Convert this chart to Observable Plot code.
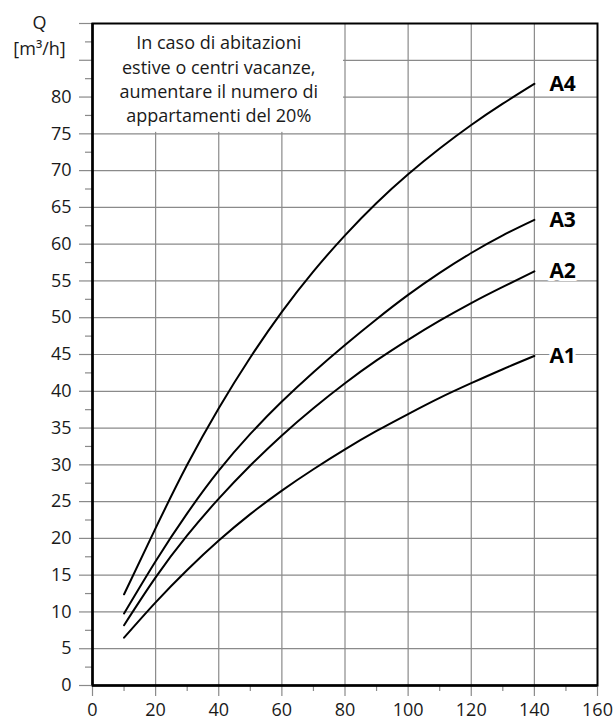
<!DOCTYPE html>
<html>
<head>
<meta charset="utf-8">
<script src="https://cdn.jsdelivr.net/npm/d3@7"></script>
<script src="https://cdn.jsdelivr.net/npm/@observablehq/plot@0.6"></script>
<style>
  html, body { margin: 0; padding: 0; background: #fff; }
  #chart svg { display: block; }
</style>
</head>
<body>
<div id="chart"></div>
<script>
// ---- data ----
const apartments = [10, 20, 30, 40, 50, 60, 70, 80, 90, 100, 110, 120, 130, 140];
const seriesNames = ["A1", "A2", "A3", "A4"];
const A1 = [6.5, 11.3, 15.7, 19.7, 23.3, 26.5, 29.4, 32.1, 34.6, 36.9, 39.1, 41.1, 43.0, 44.8];
const A2 = [8.2, 14.7, 20.4, 25.4, 29.9, 34.0, 37.7, 41.1, 44.2, 47.0, 49.6, 52.0, 54.2, 56.3];
const A3 = [9.8, 16.9, 23.4, 29.2, 34.2, 38.6, 42.6, 46.3, 49.8, 53.1, 56.1, 58.8, 61.2, 63.3];
const A4 = [12.4, 21.4, 30.0, 37.7, 44.6, 50.8, 56.3, 61.2, 65.6, 69.5, 73.0, 76.2, 79.1, 81.8];
const seriesValues = [A1, A2, A3, A4];

const xTickLabels = [0, 20, 40, 60, 80, 100, 120, 140, 160];
const xMinorTicks = [10, 30, 50, 70, 90, 110, 130, 150];
const xGridLines = [20, 40, 60, 80, 100, 120, 140];
const yTickLabels = [0, 5, 10, 15, 20, 25, 30, 35, 40, 45, 50, 55, 60, 65, 70, 75, 80];
const yMajorTicks = [0, 5, 10, 15, 20, 25, 30, 35, 40, 45, 50, 55, 60, 65, 70, 75, 80, 85, 90];
const yMinorTicks = [2.5, 7.5, 12.5, 17.5, 22.5, 27.5, 32.5, 37.5, 42.5, 47.5, 52.5, 57.5, 62.5, 67.5, 72.5, 77.5, 82.5, 87.5];
const yGridLines = [5, 10, 15, 20, 25, 30, 35, 40, 45, 50, 55, 60, 65, 70, 75, 80, 85];

const yTitle = "Q\n[m³/h]";
const noteLines = ["In caso di abitazioni", "estive o centri vacanze,", "aumentare il numero di", "appartamenti del 20%"];
const noteBox = [{x1: 0, x2: 80, y1: 75.2, y2: 90}];
const noteAnchor = [{x: 40, y: 82.6}];

// ---- build table ----
const rows = seriesNames.flatMap((name, i) =>
  apartments.map((a, j) => ({series: name, apartments: a, q: seriesValues[i][j]}))
);

const font = "'Open Sans', 'Noto Sans', sans-serif";
const gridColor = "#8a8a8a";

const chart = Plot.plot({
  width: 614,
  height: 722,
  marginLeft: 92,
  marginRight: 17,
  marginTop: 23,
  marginBottom: 37,
  style: {fontFamily: font, fontSize: "18px", color: "#1a1a1a", background: "#fff", overflow: "visible"},
  x: {domain: [0, 160], label: null},
  y: {domain: [0, 90], label: null},
  marks: [
    Plot.gridY(yGridLines, {stroke: gridColor, strokeOpacity: 1, strokeWidth: 1.2}),
    Plot.gridX(xGridLines, {stroke: gridColor, strokeOpacity: 1, strokeWidth: 1.2}),
    Plot.rect(noteBox, {x1: "x1", x2: "x2", y1: "y1", y2: "y2", fill: "white", insetRight: 1.5}),
    Plot.text(noteAnchor, {x: "x", y: "y", text: () => noteLines.join("\n"), lineHeight: 1.36,
      fontSize: 18, textAnchor: "middle", fill: "#1a1a1a", fontFamily: font}),
    // y axis ticks and labels
    Plot.axisY({ticks: yMajorTicks, tickSize: 13, text: null, stroke: gridColor, strokeWidth: 1.2}),
    Plot.axisY({ticks: yMinorTicks, tickSize: 7, text: null, stroke: gridColor, strokeWidth: 1.2}),
    Plot.axisY({ticks: yTickLabels, tickSize: 0, tickPadding: 21, fontSize: 18, fill: "#1a1a1a", fontFamily: font}),
    // x axis ticks and labels
    Plot.axisX({ticks: xTickLabels, tickSize: 11, text: null, stroke: gridColor, strokeWidth: 1.2}),
    Plot.axisX({ticks: xMinorTicks, tickSize: 6, text: null, stroke: gridColor, strokeWidth: 1.2}),
    Plot.axisX({ticks: xTickLabels, tickSize: 0, tickPadding: 18, fontSize: 18, fill: "#1a1a1a", fontFamily: font}),
    Plot.frame({stroke: "black", strokeWidth: 2}),
    Plot.ruleX([0], {stroke: "black", strokeWidth: 2.5}),
    Plot.ruleY([0], {stroke: "black", strokeWidth: 2.5}),
    // curves
    Plot.line(rows, {x: "apartments", y: "q", z: "series", stroke: "black", strokeWidth: 2, curve: "natural"}),
    Plot.text(rows, Plot.selectLast({x: "apartments", y: "q", z: "series", text: "series",
      textAnchor: "start", dx: 15, fontSize: 21, fontWeight: "bold", fill: "black",
      stroke: "white", strokeWidth: 6, fontFamily: font})),
    // y title
    Plot.text([yTitle], {text: d => d, frameAnchor: "top-left", dx: -53, dy: 10, lineAnchor: "middle",
      lineHeight: 1.44, textAnchor: "middle", fontSize: 18, fill: "#1a1a1a", fontFamily: font})
  ]
});

document.getElementById("chart").appendChild(chart);
</script>
</body>
</html>
